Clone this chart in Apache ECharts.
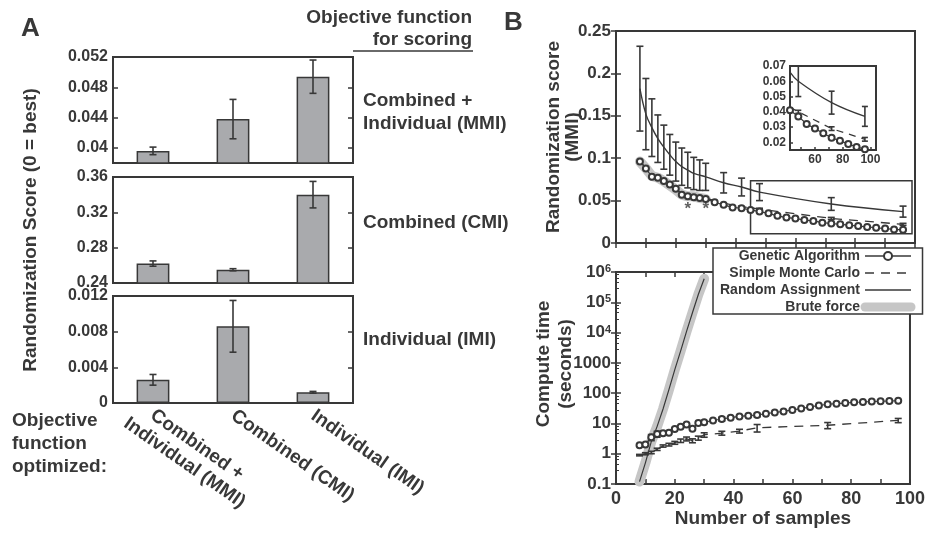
<!DOCTYPE html>
<html>
<head>
<meta charset="utf-8">
<script src="https://cdn.jsdelivr.net/npm/echarts@6/dist/echarts.min.js"></script>
<style>
  html, body { margin: 0; padding: 0; background: #fff; }
  #chart { width: 928px; height: 533px; }
</style>
</head>
<body>
<div id="chart"></div>
<script>
// ---- panel A: score of each optimised objective, per scoring objective
const optimizedBy = ['Combined +\nIndividual (MMI)', 'Combined (CMI)', 'Individual (IMI)'];
const mmiScore = [0.0396, 0.0438, 0.0494];
const mmiErr = [0.0005, 0.0026, 0.0022];
const cmiScore = [0.262, 0.255, 0.340];
const cmiErr = [0.003, 0.0012, 0.015];
const imiScore = [0.0026, 0.0086, 0.0012];
const imiErr = [0.0006, 0.0029, 0.0001];

// ---- panel B: score and compute time vs number of samples
const sampleX = [8, 10, 12, 14, 16, 18, 20, 22, 24, 26, 28, 30, 36, 42, 48, 72, 96];
const randomScore = [0.182, 0.152, 0.136, 0.123, 0.113, 0.104, 0.096, 0.090, 0.086, 0.082, 0.080, 0.078, 0.071, 0.066, 0.060, 0.046, 0.037];
const randomErr = [0.050, 0.042, 0.034, 0.028, 0.026, 0.024, 0.023, 0.022, 0.021, 0.019, 0.018, 0.016, 0.012, 0.0105, 0.010, 0.0075, 0.0065];
const smcScore = [0.097, 0.088, 0.079, 0.077, 0.073, 0.069, 0.064, 0.058, 0.056, 0.055, 0.054, 0.053, 0.047, 0.043, 0.040, 0.029, 0.022];
const smcErr = [0, 0, 0, 0, 0, 0, 0, 0, 0, 0, 0, 0, 0, 0, 0.001, 0.0012, 0.0012];
const smcTime = [0.9, 1.0, 1.1, 1.4, 1.8, 2.0, 2.3, 2.7, 3.1, 2.7, 3.3, 4.2, 4.8, 5.6, 7.2, 8.7, 12.6];
const smcTimeErr = [0.05, 0.08, 0.1, 0.12, 0.15, 0.2, 0.25, 0.35, 0.45, 0.4, 0.5, 0.7, 0.7, 0.8, 2.0, 2.0, 2.0];

const gaX = [8, 10, 12, 14, 16, 18, 20, 22, 24, 26, 28, 30, 33, 36, 39, 42, 45, 48, 51, 54, 57, 60, 63, 66, 69, 72, 75, 78, 81, 84, 87, 90, 93, 96];
const gaScore = [0.096, 0.088, 0.078, 0.077, 0.073, 0.069, 0.064, 0.057, 0.055, 0.054, 0.053, 0.052, 0.048, 0.045, 0.042, 0.041, 0.039, 0.037, 0.035, 0.032, 0.030, 0.029, 0.027, 0.026, 0.024, 0.023, 0.022, 0.021, 0.020, 0.019, 0.018, 0.017, 0.016, 0.0155];
const gaTime = [1.9, 2.0, 3.5, 4.5, 4.7, 4.9, 6.5, 7.8, 9.3, 6.7, 10.3, 11, 12.5, 14, 15.5, 17, 18, 19, 21, 23, 25, 28, 31, 35, 39, 43, 45, 47, 50, 51, 53, 54, 55, 56];
const gaTimeErr = [0, 0, 0.8, 1.0, 0, 0, 0, 0, 0, 0, 0, 0, 0, 2.0, 0, 0, 0, 2.5, 0, 0, 0, 0, 0, 0, 0, 0, 0, 0, 0, 0, 0, 0, 0, 0];

const bruteX = [8, 10, 12, 14, 16, 18, 20, 22, 24, 26, 28, 30];
const bruteScore = [0.096, 0.088, 0.079, 0.077, 0.073, 0.068, 0.063, 0.057, 0.055, 0.055, 0.053, 0.052];
const bruteTime = [0.12, 0.5, 2.5, 8, 30, 130, 600, 2500, 11000, 45000, 180000, 600000];

const starX = [24, 30];
const starY = [0.040, 0.040];
const zoomBox = [[45, 0.011], [99, 0.0735]];

const FONT = '"Liberation Sans", Arial, sans-serif';
const INK = '#383838';
const HALO = '#c6c6c6';
const txt = (size) => ({ fontFamily: FONT, fontWeight: 'bold', fontSize: size, color: INK });
const pairs = (xs, ys) => xs.map((x, i) => [x, ys[i]]);
const errRows = (xs, ys, es) => xs.map((x, i) => [x, ys[i] - es[i], ys[i] + es[i]]);

function errorBars(half) {
  return function (params, api) {
    if (api.value(2) - api.value(1) <= 0) return;
    const x = api.value(0);
    const lo = api.coord([x, api.value(1)]);
    const hi = api.coord([x, api.value(2)]);
    const style = { stroke: INK, lineWidth: 1.6 };
    return { type: 'group', children: [
      { type: 'line', shape: { x1: lo[0], y1: lo[1], x2: hi[0], y2: hi[1] }, style },
      { type: 'line', shape: { x1: lo[0] - half, y1: lo[1], x2: lo[0] + half, y2: lo[1] }, style },
      { type: 'line', shape: { x1: hi[0] - half, y1: hi[1], x2: hi[0] + half, y2: hi[1] }, style }
    ] };
  };
}

const axisLine = { show: true, lineStyle: { color: INK, width: 2 } };
const tickIn = (extra) => Object.assign({ show: true, inside: true, length: 5, lineStyle: { color: INK, width: 1.5 } }, extra);
const box = { show: true, borderColor: INK, borderWidth: 2, backgroundColor: 'transparent' };

// value axis helpers
function valueAxis(grid, o) {
  return Object.assign({ gridIndex: grid, type: 'value', splitLine: { show: false }, axisLine: axisLine,
    axisLabel: Object.assign(txt(16), { margin: 5 }), axisTick: tickIn({}) }, o);
}
function mirrorAxis(grid, o) {
  return Object.assign({ gridIndex: grid, type: 'value', splitLine: { show: false }, axisLine: { show: false },
    axisLabel: { show: false }, axisTick: tickIn({}) }, o);
}

// category axes of panel A; each line of a label centred in its block
const catAxis = (grid, showLabels) => ({
  gridIndex: grid, type: 'category',
  data: optimizedBy.map((name, i) => i === 0 && showLabels
    ? { value: name, textStyle: { padding: [22, 0, 0, -18] } } : name),
  axisLine: axisLine, axisTick: { show: false },
  axisLabel: showLabels ? Object.assign(txt(19), {
    rotate: -35, margin: 11, interval: 0, lineHeight: 22,
    formatter: v => v.split('\n').map(s => '{c|' + s + '}').join('\n'),
    rich: { c: Object.assign(txt(19), { align: 'center', lineHeight: 22 }) }
  }) : { show: false }
});

const insetErrFrom = 45;
const inset = (xs) => xs.map((x, i) => i).filter(i => xs[i] >= 42);
const gaInsetIdx = gaX.map((x, i) => i).filter(i => gaX[i] >= 42 && (gaX[i] - 42) % 6 === 0);

const chart = echarts.init(document.getElementById('chart'));
chart.setOption({
  animation: false,
  backgroundColor: '#fff',
  textStyle: { fontFamily: FONT },
  grid: [
    Object.assign({ left: 113, top: 57, width: 240, height: 106 }, box),
    Object.assign({ left: 113, top: 177, width: 240, height: 106 }, box),
    Object.assign({ left: 113, top: 296, width: 240, height: 107 }, box),
    Object.assign({ left: 616, top: 31, width: 299, height: 212 }, box),
    Object.assign({ left: 790, top: 66, width: 86, height: 84 }, box),
    Object.assign({ left: 616, top: 272, width: 299, height: 212 }, box)
  ],
  xAxis: [
    catAxis(0, false),
    catAxis(1, false),
    catAxis(2, true),
    valueAxis(3, { min: 0, max: 100, interval: 10, axisLabel: { show: false } }),
    mirrorAxis(3, { position: 'top', min: 0, max: 100, interval: 10 }),
    valueAxis(4, { min: 42, max: 104, axisLabel: Object.assign(txt(12), { margin: 4, customValues: [60, 80, 100] }),
      axisTick: tickIn({ length: 3, customValues: [50, 60, 70, 80, 90, 100] }) }),
    valueAxis(5, { min: 0, max: 100, interval: 10,
      axisLabel: Object.assign(txt(18), { margin: 6, formatter: v => (v % 20 === 0 ? String(v) : '') }),
      name: 'Number of samples', nameLocation: 'middle', nameGap: 25, nameTextStyle: txt(19) }),
    mirrorAxis(5, { position: 'top', min: 0, max: 100, interval: 10 })
  ],
  yAxis: [
    valueAxis(0, { min: 0.038, max: 0.052,
      axisLabel: Object.assign(txt(16), { margin: 5, customValues: [0.04, 0.044, 0.048, 0.052] }),
      axisTick: tickIn({ customValues: [0.04, 0.044, 0.048] }) }),
    mirrorAxis(0, { position: 'right', min: 0.038, max: 0.052, axisTick: tickIn({ customValues: [0.04, 0.044, 0.048] }) }),
    valueAxis(1, { min: 0.24, max: 0.36, interval: 0.04,
      name: 'Randomization Score (0 = best)', nameLocation: 'middle', nameGap: 73, nameTextStyle: txt(19) }),
    mirrorAxis(1, { position: 'right', min: 0.24, max: 0.36, interval: 0.04 }),
    valueAxis(2, { min: 0, max: 0.012, interval: 0.004 }),
    mirrorAxis(2, { position: 'right', min: 0, max: 0.012, interval: 0.004 }),
    valueAxis(3, { min: 0, max: 0.25, interval: 0.05, axisLabel: Object.assign(txt(17), { margin: 5 }),
      name: 'Randomization score\n(MMI)', nameLocation: 'middle', nameGap: 34, nameMoveOverlap: false,
      nameTextStyle: Object.assign(txt(19), { lineHeight: 19 }) }),
    mirrorAxis(3, { position: 'right', min: 0, max: 0.25, interval: 0.05 }),
    valueAxis(4, { min: 0.015, max: 0.07,
      axisLabel: Object.assign(txt(12), { margin: 4, customValues: [0.02, 0.03, 0.04, 0.05, 0.06, 0.07] }),
      axisTick: tickIn({ length: 3, customValues: [0.02, 0.03, 0.04, 0.05, 0.06] }) }),
    valueAxis(5, { type: 'log', logBase: 10, min: 0.1, max: 1e6,
      axisLabel: Object.assign(txt(17), {
        margin: 5,
        formatter: v => {
          const e = Math.round(Math.log10(v));
          return e >= 4 ? '10{sup|' + e + '}' : String(e >= 0 ? Math.round(v) : v);
        },
        rich: { sup: Object.assign(txt(11), { verticalAlign: 'top', lineHeight: 10, padding: [0, 0, 8, 0] }) }
      }),
      minorTick: { show: true, splitNumber: 5, length: 3, lineStyle: { color: INK, width: 1 } },
      name: 'Compute time\n(seconds)', nameLocation: 'middle', nameGap: 39, nameMoveOverlap: false,
      nameTextStyle: Object.assign(txt(19), { lineHeight: 22, padding: [0, 0, 0, 28] }) }),
    mirrorAxis(5, { type: 'log', logBase: 10, position: 'right', min: 0.1, max: 1e6 })
  ],
  legend: {
    orient: 'vertical', left: 713, top: 248, align: 'right', z: 10,
    itemWidth: 46, itemHeight: 10, itemGap: 3,
    backgroundColor: '#fff', borderColor: INK, borderWidth: 1.5,
    padding: [1, 7, 0, 7],
    textStyle: Object.assign(txt(14), { lineHeight: 14 }),
    lineStyle: { width: 1.3 },
    data: [
      { name: 'Genetic Algorithm' },
      { name: 'Simple Monte Carlo', itemStyle: { opacity: 0 } },
      { name: 'Random Assignment', itemStyle: { opacity: 0 } },
      { name: 'Brute force', itemStyle: { opacity: 0 }, lineStyle: { width: 9, cap: 'round', color: HALO } }
    ]
  },
  graphic: [
    { type: 'text', left: 21, top: 16, style: Object.assign({ text: 'A' }, txt(26), { fill: INK }) },
    { type: 'text', left: 504, top: 10, style: Object.assign({ text: 'B' }, txt(26), { fill: INK }) },
    { type: 'text', x: 472, y: 18, style: Object.assign({ text: 'Objective function', align: 'right', verticalAlign: 'middle' }, txt(19), { fill: INK }) },
    { type: 'text', x: 472, y: 40, style: Object.assign({ text: 'for scoring', align: 'right', verticalAlign: 'middle' }, txt(19), { fill: INK }) },
    { type: 'line', shape: { x1: 353, y1: 51, x2: 473, y2: 51 }, style: { stroke: INK, lineWidth: 1.5 } },
    { type: 'text', x: 363, y: 112, style: Object.assign({ text: 'Combined +\nIndividual (MMI)', verticalAlign: 'middle', lineHeight: 23 }, txt(19), { fill: INK }) },
    { type: 'text', x: 363, y: 223, style: Object.assign({ text: 'Combined (CMI)', verticalAlign: 'middle' }, txt(19), { fill: INK }) },
    { type: 'text', x: 363, y: 340, style: Object.assign({ text: 'Individual (IMI)', verticalAlign: 'middle' }, txt(19), { fill: INK }) },
    { type: 'text', x: 12, y: 444, style: Object.assign({ text: 'Objective\nfunction\noptimized:', verticalAlign: 'middle', lineHeight: 23 }, txt(19), { fill: INK }) }
  ],
  series: [
    // panel A bars and error bars
    ...[[mmiScore, mmiErr], [cmiScore, cmiErr], [imiScore, imiErr]].flatMap(([s, e], g) => [
      { type: 'bar', xAxisIndex: g, yAxisIndex: g * 2, data: s, barWidth: '41%',
        itemStyle: { color: '#a9aaad', borderColor: INK, borderWidth: 1.5 } },
      { type: 'custom', xAxisIndex: g, yAxisIndex: g * 2, renderItem: errorBars(3.5), z: 3,
        data: errRows([0, 1, 2], s, e), encode: { x: 0, y: [1, 2] } }
    ]),

    // panel B top: score
    { name: 'Brute force', type: 'line', xAxisIndex: 3, yAxisIndex: 6, data: pairs(bruteX, bruteScore), symbol: 'none', z: 1,
      lineStyle: { color: HALO, width: 10, cap: 'round', join: 'round' }, itemStyle: { color: HALO } },
    { name: 'Random Assignment', type: 'line', xAxisIndex: 3, yAxisIndex: 6, data: pairs(sampleX, randomScore), symbol: 'none', smooth: 0.4,
      lineStyle: { color: INK, width: 1.4 }, itemStyle: { color: INK },
      markArea: { silent: true, itemStyle: { color: 'rgba(0,0,0,0)', borderColor: INK, borderWidth: 1.5 },
        data: [[{ coord: zoomBox[0] }, { coord: zoomBox[1] }]] } },
    { type: 'custom', xAxisIndex: 3, yAxisIndex: 6, renderItem: errorBars(3.5), z: 3,
      data: errRows(sampleX, randomScore, randomErr), encode: { x: 0, y: [1, 2] } },
    { name: 'Simple Monte Carlo', type: 'line', xAxisIndex: 3, yAxisIndex: 6, data: pairs(sampleX, smcScore), symbol: 'none',
      lineStyle: { color: INK, width: 1.3, type: [9, 7] }, itemStyle: { color: INK } },
    { type: 'custom', xAxisIndex: 3, yAxisIndex: 6, renderItem: errorBars(3.5), z: 3,
      data: errRows(sampleX, smcScore, smcErr), encode: { x: 0, y: [1, 2] } },
    { name: 'Genetic Algorithm', type: 'line', xAxisIndex: 3, yAxisIndex: 6, data: pairs(gaX, gaScore),
      symbol: 'emptyCircle', symbolSize: 6, z: 4,
      lineStyle: { color: INK, width: 1.2 }, itemStyle: { color: INK, borderColor: INK, borderWidth: 1.2 } },
    { type: 'scatter', xAxisIndex: 3, yAxisIndex: 6, data: pairs(starX, starY), symbolSize: 1,
      itemStyle: { color: 'rgba(0,0,0,0)' },
      label: { show: true, position: 'inside', formatter: '*', fontSize: 17, fontWeight: 'bold', color: INK } },

    // inset
    { type: 'line', xAxisIndex: 5, yAxisIndex: 8, data: inset(sampleX).map(i => [sampleX[i], randomScore[i]]), symbol: 'none', smooth: 0.4,
      lineStyle: { color: INK, width: 1.3 } },
    { type: 'custom', xAxisIndex: 5, yAxisIndex: 8, renderItem: errorBars(3), z: 3,
      data: errRows(sampleX, randomScore, randomErr).filter(r => r[0] >= insetErrFrom), encode: { x: 0, y: [1, 2] } },
    { type: 'line', xAxisIndex: 5, yAxisIndex: 8, data: inset(sampleX).map(i => [sampleX[i], smcScore[i]]), symbol: 'none',
      lineStyle: { color: INK, width: 1.2, type: [7, 6] } },
    { type: 'custom', xAxisIndex: 5, yAxisIndex: 8, renderItem: errorBars(3), z: 3,
      data: errRows(sampleX, smcScore, smcErr).filter(r => r[0] >= insetErrFrom), encode: { x: 0, y: [1, 2] } },
    { type: 'line', xAxisIndex: 5, yAxisIndex: 8, data: gaInsetIdx.map(i => [gaX[i], gaScore[i]]),
      symbol: 'emptyCircle', symbolSize: 6, z: 4,
      lineStyle: { color: INK, width: 1.2 }, itemStyle: { color: INK, borderColor: INK, borderWidth: 1.2 } },

    // panel B bottom: compute time
    { name: 'Brute force', type: 'line', xAxisIndex: 6, yAxisIndex: 9, data: pairs(bruteX, bruteTime), symbol: 'none', z: 1,
      lineStyle: { color: HALO, width: 10, cap: 'round', join: 'round' } },
    { type: 'line', xAxisIndex: 6, yAxisIndex: 9, data: pairs(bruteX, bruteTime), symbol: 'none', z: 2,
      lineStyle: { color: INK, width: 1.2 } },
    { name: 'Simple Monte Carlo', type: 'line', xAxisIndex: 6, yAxisIndex: 9, data: pairs(sampleX, smcTime), symbol: 'none',
      lineStyle: { color: INK, width: 1.3, type: [9, 7] } },
    { type: 'custom', xAxisIndex: 6, yAxisIndex: 9, renderItem: errorBars(3.5), z: 3,
      data: errRows(sampleX, smcTime, smcTimeErr), encode: { x: 0, y: [1, 2] } },
    { name: 'Genetic Algorithm', type: 'line', xAxisIndex: 6, yAxisIndex: 9, data: pairs(gaX, gaTime),
      symbol: 'emptyCircle', symbolSize: 6, z: 4,
      lineStyle: { color: INK, width: 1.2 }, itemStyle: { color: INK, borderColor: INK, borderWidth: 1.2 } },
    { type: 'custom', xAxisIndex: 6, yAxisIndex: 9, renderItem: errorBars(3.5), z: 3,
      data: errRows(gaX, gaTime, gaTimeErr), encode: { x: 0, y: [1, 2] } }
  ]
});
</script>
</body>
</html>
